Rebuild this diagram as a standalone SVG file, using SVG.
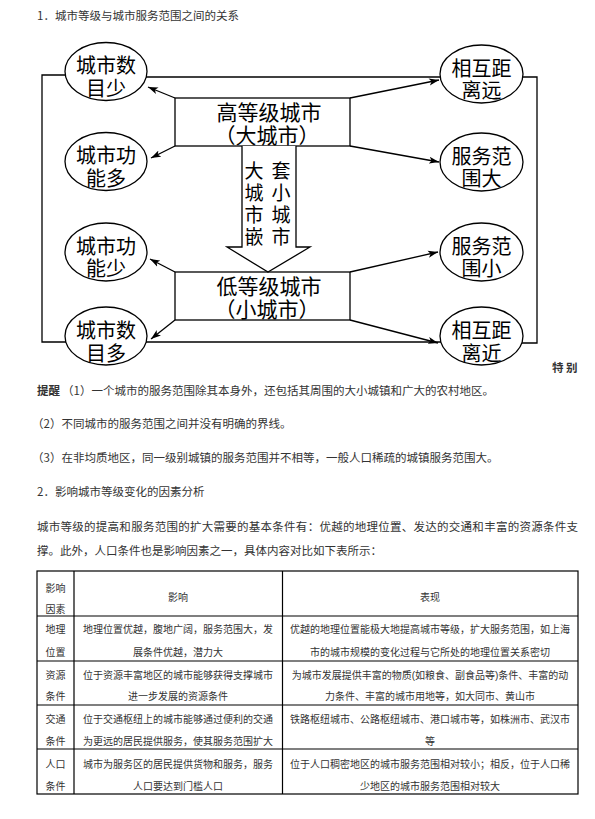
<svg xmlns="http://www.w3.org/2000/svg" width="595" height="819" viewBox="0 0 595 819">
<style>
.t{font-family:"Noto Sans CJK SC","Liberation Sans",sans-serif;fill:#333;font-size:11.5px}
.tb{font-family:"Noto Sans CJK SC","Liberation Sans",sans-serif;fill:#333;font-size:11.5px;font-weight:bold}
.tc{font-family:"Liberation Sans","Noto Sans CJK SC",sans-serif;fill:#333;font-size:10px;text-anchor:middle}
.d{font-family:"Liberation Sans","Noto Sans CJK SC",sans-serif;fill:#000;font-size:20px;text-anchor:middle}
.db{font-family:"Liberation Sans","Noto Sans CJK SC",sans-serif;fill:#000;font-size:21px;text-anchor:middle}
.dv{font-family:"Liberation Sans","Noto Sans CJK SC",sans-serif;fill:#000;font-size:19px;text-anchor:middle}
.ln{stroke:#000;stroke-width:1.3;fill:none}
.ar{stroke:#000;stroke-width:1.3;fill:none;marker-end:url(#ah)}
.el{fill:#fff;stroke:#000;stroke-width:1.3}
.bx{fill:#fff;stroke:#000;stroke-width:1.3}
.tbl{stroke:#000;stroke-width:1.2;fill:none}
</style>
<defs>
<marker id="ah" markerUnits="userSpaceOnUse" markerWidth="11" markerHeight="8" refX="10" refY="4" orient="auto">
<path d="M0,0.5 L10,4 L0,7.5 L2.5,4 z" fill="#000"/>
</marker>
</defs>
<rect width="595" height="819" fill="#fff"/>

<text class="t" x="37" y="20">1．城市等级与城市服务范围之间的关系</text>

<g id="node-high">
<rect class="bx" x="175" y="98" width="175" height="48"/>
<text class="db"><tspan x="269" y="120">高等级城市</tspan><tspan x="267" y="142.5">（大城市）</tspan></text>
</g>
<g id="node-low">
<rect class="bx" x="175" y="272" width="175" height="48"/>
<text class="db"><tspan x="269" y="294">低等级城市</tspan><tspan x="267" y="316.5">（小城市）</tspan></text>
</g>

<g id="node-l1">
<ellipse class="el" cx="106" cy="71.5" rx="41" ry="29"/>
<text class="d"><tspan x="106" y="73">城市数</tspan><tspan x="106" y="95.5">目少</tspan></text>
</g>
<g id="node-l2">
<ellipse class="el" cx="106" cy="161.5" rx="41" ry="29"/>
<text class="d"><tspan x="106" y="163">城市功</tspan><tspan x="106" y="185.5">能多</tspan></text>
</g>
<g id="node-l3">
<ellipse class="el" cx="106" cy="252" rx="41" ry="29"/>
<text class="d"><tspan x="106" y="253.5">城市功</tspan><tspan x="106" y="276">能少</tspan></text>
</g>
<g id="node-l4">
<ellipse class="el" cx="106" cy="336" rx="41" ry="29"/>
<text class="d"><tspan x="106" y="338">城市数</tspan><tspan x="106" y="360.5">目多</tspan></text>
</g>
<g id="node-r1">
<ellipse class="el" cx="481.5" cy="74" rx="41.5" ry="29"/>
<text class="d"><tspan x="481.5" y="75.5">相互距</tspan><tspan x="481.5" y="98">离远</tspan></text>
</g>
<g id="node-r2">
<ellipse class="el" cx="481.5" cy="162" rx="41.5" ry="29"/>
<text class="d"><tspan x="481.5" y="163.5">服务范</tspan><tspan x="481.5" y="186">围大</tspan></text>
</g>
<g id="node-r3">
<ellipse class="el" cx="481.5" cy="252" rx="41.5" ry="29"/>
<text class="d"><tspan x="481.5" y="253.5">服务范</tspan><tspan x="481.5" y="276">围小</tspan></text>
</g>
<g id="node-r4">
<ellipse class="el" cx="481.5" cy="336" rx="41.5" ry="29"/>
<text class="d"><tspan x="481.5" y="338">相互距</tspan><tspan x="481.5" y="360.5">离近</tspan></text>
</g>

<g id="connectors">
<path class="ln" d="M65,75 H42 V342 H66"/>
<path class="ln" d="M146,77 H440"/>
<path class="ln" d="M146,342 H441"/>
<path class="ln" d="M523,77 H537 V343 H522"/>
<line class="ar" x1="175" y1="98" x2="148" y2="87"/>
<line class="ar" x1="175" y1="146" x2="151" y2="158"/>
<line class="ar" x1="350" y1="98" x2="439" y2="80"/>
<line class="ar" x1="350" y1="146" x2="439" y2="162"/>
<line class="ar" x1="175" y1="272" x2="150" y2="259"/>
<line class="ar" x1="175" y1="320" x2="151" y2="339"/>
<line class="ar" x1="350" y1="272" x2="438" y2="252"/>
<line class="ar" x1="350" y1="320" x2="438" y2="343"/>
<path d="M242,146 V247 H227 L268,272 L310,247 H296 V146" fill="#fff" stroke="#000" stroke-width="1.3"/>
<text class="dv"><tspan x="254" y="178">大</tspan><tspan x="254" y="200">城</tspan><tspan x="254" y="222">市</tspan><tspan x="254" y="244">嵌</tspan></text>
<text class="dv"><tspan x="281" y="178">套</tspan><tspan x="281" y="200">小</tspan><tspan x="281" y="222">城</tspan><tspan x="281" y="244">市</tspan></text>
</g>

<text class="tb" x="552" y="372" font-size="12">特 别</text>

<text class="tb" x="37" y="395">提醒</text>
<text class="t" x="62" y="395">（1）一个城市的服务范围除其本身外，还包括其周围的大小城镇和广大的农村地区。</text>
<text class="t" x="32" y="428">（2）不同城市的服务范围之间并没有明确的界线。</text>
<text class="t" x="32" y="462">（3）在非均质地区，同一级别城镇的服务范围并不相等，一般人口稀疏的城镇服务范围大。</text>
<text class="t" x="37" y="496">2．影响城市等级变化的因素分析</text>
<text class="t" x="37" y="531" textLength="541" lengthAdjust="spacing">城市等级的提高和服务范围的扩大需要的基本条件有：优越的地理位置、发达的交通和丰富的资源条件支</text>
<text class="t" x="37" y="555">撑。此外，人口条件也是影响因素之一，具体内容对比如下表所示：</text>

<g id="table">
<rect class="tbl" x="37" y="571" width="541" height="223"/>
<path class="tbl" d="M74,571 V794 M282.5,571 V794 M37,616 H578 M37,661 H578 M37,705 H578 M37,749 H578"/>
<text class="tc"><tspan x="55.5" y="592">影响</tspan><tspan x="55.5" y="613">因素</tspan></text>
<text class="tc" x="178" y="601">影响</text>
<text class="tc" x="430" y="601">表现</text>

<text class="tc"><tspan x="55.5" y="633">地理</tspan><tspan x="55.5" y="656">位置</tspan></text>
<text class="tc"><tspan x="178" y="633">地理位置优越，腹地广阔，服务范围大，发</tspan><tspan x="178" y="656">展条件优越，潜力大</tspan></text>
<text class="tc"><tspan x="430" y="633">优越的地理位置能极大地提高城市等级，扩大服务范围，如上海</tspan><tspan x="430" y="656">市的城市规模的变化过程与它所处的地理位置关系密切</tspan></text>

<text class="tc"><tspan x="55.5" y="679">资源</tspan><tspan x="55.5" y="700">条件</tspan></text>
<text class="tc"><tspan x="178" y="679">位于资源丰富地区的城市能够获得支撑城市</tspan><tspan x="178" y="700">进一步发展的资源条件</tspan></text>
<text class="tc"><tspan x="430" y="679">为城市发展提供丰富的物质(如粮食、副食品等)条件、丰富的动</tspan><tspan x="430" y="700">力条件、丰富的城市用地等，如大同市、黄山市</tspan></text>

<text class="tc"><tspan x="55.5" y="723">交通</tspan><tspan x="55.5" y="745">条件</tspan></text>
<text class="tc"><tspan x="178" y="723">位于交通枢纽上的城市能够通过便利的交通</tspan><tspan x="178" y="745">为更远的居民提供服务，使其服务范围扩大</tspan></text>
<text class="tc"><tspan x="430" y="723">铁路枢纽城市、公路枢纽城市、港口城市等，如株洲市、武汉市</tspan><tspan x="430" y="745">等</tspan></text>

<text class="tc"><tspan x="55.5" y="768">人口</tspan><tspan x="55.5" y="790">条件</tspan></text>
<text class="tc"><tspan x="178" y="768">城市为服务区的居民提供货物和服务，服务</tspan><tspan x="178" y="790">人口要达到门槛人口</tspan></text>
<text class="tc"><tspan x="430" y="768">位于人口稠密地区的城市服务范围相对较小；相反，位于人口稀</tspan><tspan x="430" y="790">少地区的城市服务范围相对较大</tspan></text>
</g>
</svg>
